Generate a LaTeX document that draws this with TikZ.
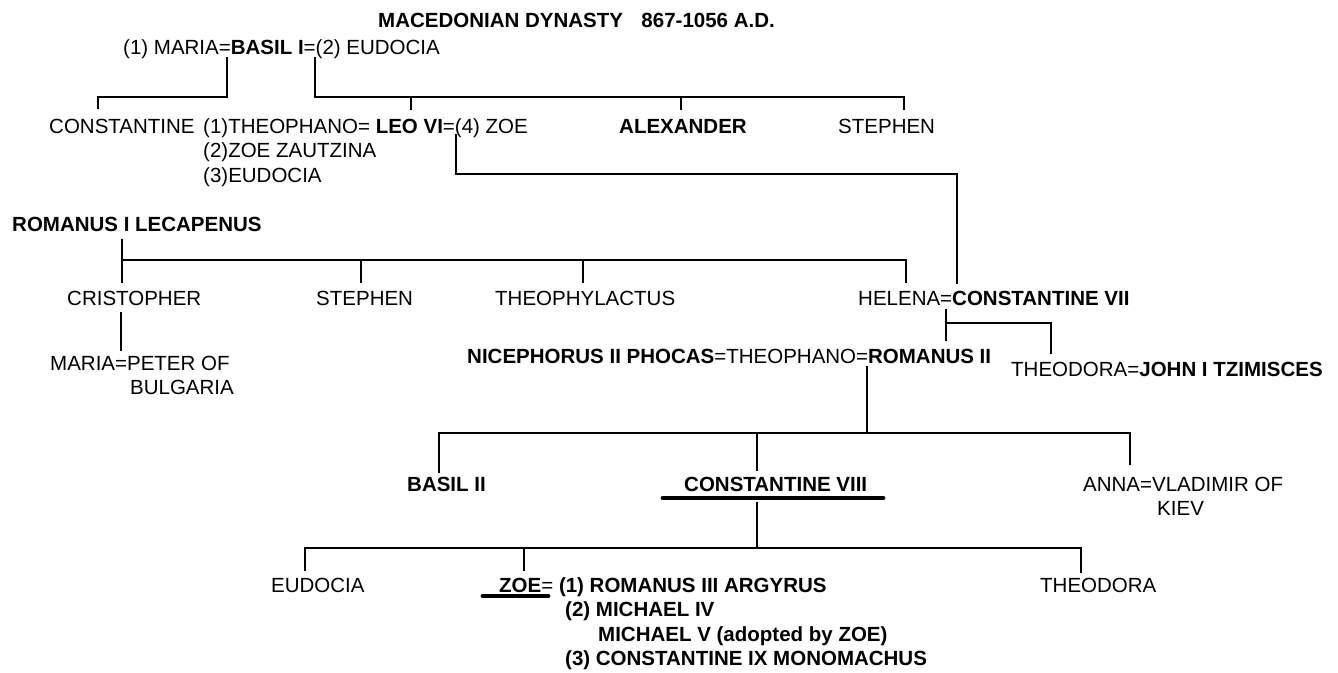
\documentclass[tikz,border=0pt]{standalone}
\usepackage{fontspec}
\setmainfont{Liberation Sans}
\begin{document}
\begin{tikzpicture}[x=1pt,y=-1pt,
  txt/.style={font=\fontsize{20.5}{24.5}\selectfont, inner sep=0pt, anchor=base west},
  txtr/.style={txt, anchor=base east},
  ln/.style={line width=2.8pt, line cap=butt, line join=miter},
  bar/.style={line width=4.8pt, line cap=round}]
\useasboundingbox (0,0) rectangle (1338,672);
% ---- texts ----
\node[txt] (title) at (378,27.3) {\textbf{MACEDONIAN DYNASTY\hspace{0.9em}867-1056 A.D.}};
\node[txt] (basil) at (123,54.3) {(1) MARIA=\textbf{BASIL I}=(2) EUDOCIA};
\node[txt] (const) at (49,133.3) {CONSTANTINE};
\node[txt] (leo) at (203,133.3) {(1)THEOPHANO= \textbf{LEO VI}=(4) ZOE};
\node[txt] (leo2) at (203,157.8) {(2)ZOE ZAUTZINA};
\node[txt] (leo3) at (203,182.3) {(3)EUDOCIA};
\node[txt] (alex) at (619,133.3) {\textbf{ALEXANDER}};
\node[txt] (steph) at (838,133.3) {STEPHEN};
\node[txt] (romI) at (12,231.5) {\textbf{ROMANUS I LECAPENUS}};
\node[txt] (cris) at (67,305.3) {CRISTOPHER};
\node[txt] (steph2) at (316,305.3) {STEPHEN};
\node[txt] (theoph) at (495,305.3) {THEOPHYLACTUS};
\node[txt] (c7) at (858,305.3) {HELENA=\textbf{CONSTANTINE VII}};
\node[txt] (maria) at (50,370.3) {MARIA=PETER OF};
\node[txtr] (maria2) at (234,394.8) {BULGARIA};
\node[txt] (rom2) at (467,363.3) {\textbf{NICEPHORUS II PHOCAS}=THEOPHANO=\textbf{ROMANUS II}};
\node[txt] (theod) at (1011,376.3) {THEODORA=\textbf{JOHN I TZIMISCES}};
\node[txt] (basil2) at (407,491.3) {\textbf{BASIL II}};
\node[txt] (c8) at (684,491.3) {\textbf{CONSTANTINE VIII}};
\node[txt] (anna) at (1083,491.3) {ANNA=VLADIMIR OF};
\node[txt] (anna2) at (1157,515.8) {KIEV};
\node[txt] (eud) at (271,592.3) {EUDOCIA};
\node[txt] (zoe) at (499,592.3) {\textbf{ZOE}= \textbf{(1) ROMANUS III ARGYRUS}};
\node[txt] (zoe2) at (565,616.8) {\textbf{(2) MICHAEL IV}};
\node[txt] (zoe3) at (598,641.3) {\textbf{MICHAEL V (adopted by ZOE)}};
\node[txt] (zoe4) at (565,665.8) {\textbf{(3) CONSTANTINE IX MONOMACHUS}};
\node[txt] (theod2) at (1040,592.3) {THEODORA};
% ---- junction coordinates ----
\coordinate (b1) at (227,57);
\coordinate (b1h) at (227,97);
\coordinate (cst) at (98,109);
\coordinate (b2) at (315,57);
\coordinate (stp) at (904,110);
\coordinate (leoT) at (411,110);
\coordinate (alexT) at (681,110);
\coordinate (l6) at (456,134);
\coordinate (c7T) at (957,284);
\coordinate (r1) at (122,239);
\coordinate (crisT) at (122,283);
\coordinate (helT) at (906,283);
\coordinate (st2T) at (361,283);
\coordinate (thT) at (583,283);
\coordinate (crisB) at (121,312);
\coordinate (mariaT) at (121,351);
\coordinate (c7B) at (946,309);
\coordinate (r2T) at (946,341);
\coordinate (c7J) at (946,323);
\coordinate (thdT) at (1051,354);
\coordinate (r2B) at (867,366);
\coordinate (h3L) at (439,433);
\coordinate (h3R) at (1130,433);
\coordinate (bs2T) at (439,473);
\coordinate (c8T) at (757,471);
\coordinate (annaT) at (1130,465);
\coordinate (c8B) at (757,502);
\coordinate (h4L) at (305,548);
\coordinate (h4R) at (1081,548);
\coordinate (eudT) at (305,571);
\coordinate (zoeT) at (524,571);
\coordinate (thd2T) at (1081,573);
% ---- connectors ----
\draw[ln] (b1) -- (b1h) -| (cst);
\draw[ln] (b2) |- (stp |- b1h) -- (stp);
\draw[ln] (leoT |- b1h) -- (leoT);
\draw[ln] (alexT |- b1h) -- (alexT);
\draw[ln] (l6) |- (c7T |- 0,174) -- (c7T);
\draw[ln] (r1) -- (crisT);
\draw[ln] (r1 |- 0,260) -| (helT);
\draw[ln] (st2T |- 0,260) -- (st2T);
\draw[ln] (thT |- 0,260) -- (thT);
\draw[ln] (crisB) -- (mariaT);
\draw[ln] (c7B) -- (r2T);
\draw[ln] (c7J) -| (thdT);
\draw[ln] (r2B) -- (r2B |- h3L);
\draw[ln] (bs2T) |- (h3R) -- (annaT);
\draw[ln] (c8T |- h3L) -- (c8T);
\draw[bar] (663,498) -- (883,498);
\draw[ln] (c8B) -- (c8B |- h4L);
\draw[ln] (eudT) |- (h4R) -- (thd2T);
\draw[ln] (zoeT |- h4L) -- (zoeT);
\draw[bar] (483,596) -- (548,596);
\end{tikzpicture}
\end{document}
